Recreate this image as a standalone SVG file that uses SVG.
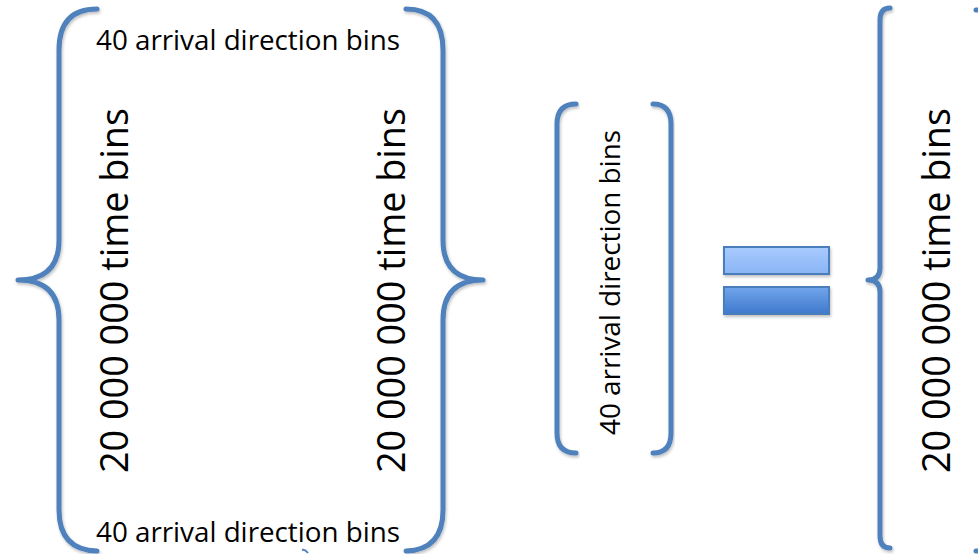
<svg xmlns="http://www.w3.org/2000/svg" width="978" height="554" viewBox="0 0 978 554">
<style>
.br{fill:none;stroke:#4f81bd;stroke-width:5;stroke-linecap:round;stroke-linejoin:round}
.t{font-family:"Open Sans","Liberation Sans",sans-serif;fill:#000}
.h{font-size:28px}
.v{font-size:38px}
</style>
<defs>
<filter id="sh" x="-20%" y="-20%" width="140%" height="140%">
<feDropShadow dx="1" dy="2" stdDeviation="1.5" flood-color="#000" flood-opacity="0.25"/>
</filter>
<linearGradient id="g1" x1="0" y1="0" x2="0" y2="1">
<stop offset="0" stop-color="#a9cbff"/>
<stop offset="1" stop-color="#8ab4f4"/>
</linearGradient>
<linearGradient id="g2" x1="0" y1="0" x2="0" y2="1">
<stop offset="0" stop-color="#72a5ec"/>
<stop offset="1" stop-color="#3f79cc"/>
</linearGradient>
</defs>
<g id="left-matrix">
<path class="br" filter="url(#sh)" d="M97 9 Q59 9 59 50 L59 240 Q59 280 18 280 Q59 280 59 320 L59 510 Q59 550 97 551"/>
<path class="br" filter="url(#sh)" d="M406 9 Q443 9 443 50 L443 240 Q443 280 483 280 Q443 280 443 320 L443 510 Q443 550 406 551"/>
<text class="t h" x="96" y="50" textLength="304" lengthAdjust="spacingAndGlyphs">40 arrival direction bins</text>
<text class="t h" x="96" y="542" textLength="304" lengthAdjust="spacingAndGlyphs">40 arrival direction bins</text>
<text class="t v" transform="translate(128,473) rotate(-90)" textLength="365" lengthAdjust="spacingAndGlyphs">20 000 000 time bins</text>
<text class="t v" transform="translate(405,473) rotate(-90)" textLength="365" lengthAdjust="spacingAndGlyphs">20 000 000 time bins</text>
</g>
<g id="middle-vector">
<path class="br" filter="url(#sh)" d="M576 104 Q557 104 557 124 L557 433 Q557 453 576 453"/>
<path class="br" filter="url(#sh)" d="M653 104 Q671 104 671 124 L671 433 Q671 453 653 453"/>
<text class="t h" transform="translate(620,435) rotate(-90)" textLength="305" lengthAdjust="spacingAndGlyphs">40 arrival direction bins</text>
</g>
<g id="equals">
<rect x="724" y="247" width="105" height="27" fill="url(#g1)" stroke="#4a7ebb" stroke-width="2" filter="url(#sh)"/>
<rect x="724" y="287" width="105" height="27" fill="url(#g2)" stroke="#4a7ebb" stroke-width="2" filter="url(#sh)"/>
</g>
<g id="right-result">
<path class="br" filter="url(#sh)" d="M890 8 Q880 8 880 20 L880 268 Q880 280 868 280 Q880 280 880 292 L880 536 Q880 548 890 548"/>
<text class="t v" transform="translate(950,473) rotate(-90)" textLength="365" lengthAdjust="spacingAndGlyphs">20 000 000 time bins</text>
<path class="br" d="M976 10 L990 10 M976 551 L990 551"/>
</g>
<g id="connectors">
<path d="M302 550 Q305 549 308 553" fill="none" stroke="#4f81bd" stroke-width="2"/>
</g>
</svg>
